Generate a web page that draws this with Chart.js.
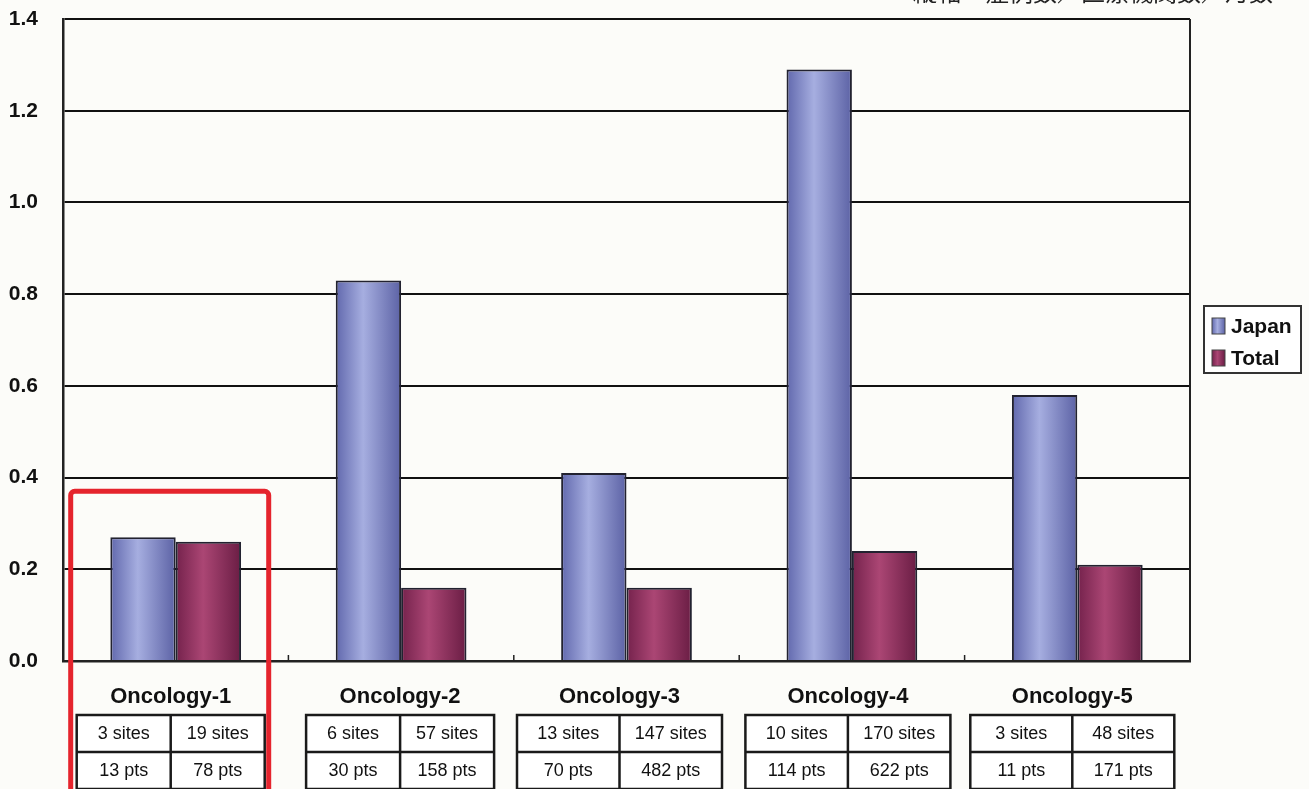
<!DOCTYPE html>
<html>
<head>
<meta charset="utf-8">
<script src="https://cdn.jsdelivr.net/npm/chart.js@4"></script>
<style>
  html, body { margin: 0; padding: 0; background: #fcfcf9; }
  #wrap { width: 1309px; height: 789px; position: relative; }
</style>
</head>
<body>
<div id="wrap"><canvas id="chart"></canvas></div>
<script>
var categories = ['Oncology-1', 'Oncology-2', 'Oncology-3', 'Oncology-4', 'Oncology-5'];
var japan = [0.27, 0.83, 0.41, 1.29, 0.58];
var total = [0.26, 0.16, 0.16, 0.24, 0.21];
var japanSites = [3, 6, 13, 10, 3];
var totalSites = [19, 57, 147, 170, 48];
var japanPts = [13, 30, 70, 114, 11];
var totalPts = [78, 158, 482, 622, 171];
var yTicks = [0, 0.2, 0.4, 0.6, 0.8, 1.0, 1.2, 1.4];
var axisNote = '縦軸：症例数／医療機関数／月数';

// table layout under each category (px)
var tableWidths = [188, 188, 205, 205, 204];
var tableShift = [-5, -1, -7, -4, -5];
var highlightIndex = 0;
var highlightTop = 0.37;

var catPct = 0.58;

function barGradient(ctx, x0, x1, dark, light, dark2) {
  var g = ctx.createLinearGradient(x0, 0, x1, 0);
  g.addColorStop(0, dark);
  g.addColorStop(0.42, light);
  g.addColorStop(1, dark2);
  return g;
}

var colors = [
  ['#6168ad', '#a6aee0', '#5c62a5'],
  ['#74224c', '#ab4674', '#6a1d44']
];

function fillFor(c) {
  var chart = c.chart;
  var xs = chart.scales.x;
  if (!xs || xs.right == null) return colors[c.datasetIndex][1];
  var catW = (xs.right - xs.left) / categories.length;
  var barW = catW * catPct / 2;
  var center = xs.getPixelForValue(c.dataIndex);
  var x0 = c.datasetIndex === 0 ? center - barW : center;
  var col = colors[c.datasetIndex];
  return barGradient(chart.ctx, x0, x0 + barW, col[0], col[1], col[2]);
}

var extras = {
  id: 'extras',
  afterDraw: function(chart) {
    var ctx = chart.ctx;
    var a = chart.chartArea;
    var xs = chart.scales.x;
    var ys = chart.scales.y;
    var n = categories.length;
    var catW = (a.right - a.left) / n;
    ctx.save();

    // right border of plot
    ctx.strokeStyle = '#222';
    ctx.lineWidth = 2;
    ctx.beginPath();
    ctx.moveTo(a.right, a.top);
    ctx.lineTo(a.right, a.bottom);
    ctx.stroke();

    // small inner ticks between categories
    ctx.lineWidth = 1.5;
    ctx.strokeStyle = '#222';
    for (var i = 1; i < n; i++) {
      var tx = a.left + catW * i;
      ctx.beginPath();
      ctx.moveTo(tx, a.bottom - 6);
      ctx.lineTo(tx, a.bottom);
      ctx.stroke();
    }

    // category labels and tables
    for (var k = 0; k < n; k++) {
      var cx = xs.getPixelForValue(k) + tableShift[k];
      ctx.fillStyle = '#111';
      ctx.font = 'bold 22px "Liberation Sans", Arial, sans-serif';
      ctx.textAlign = 'center';
      ctx.textBaseline = 'middle';
      ctx.fillText(categories[k], cx, a.bottom + 36);

      var w = tableWidths[k];
      var left = cx - w / 2, top = a.bottom + 54, rh = 37;
      ctx.strokeStyle = '#1a1a1a';
      ctx.lineWidth = 2.5;
      ctx.fillStyle = '#ffffff';
      ctx.fillRect(left, top, w, rh * 3);
      ctx.strokeRect(left, top, w, rh * 3);
      ctx.beginPath();
      ctx.moveTo(left, top + rh); ctx.lineTo(left + w, top + rh);
      ctx.moveTo(left, top + rh * 2); ctx.lineTo(left + w, top + rh * 2);
      ctx.moveTo(cx, top); ctx.lineTo(cx, top + rh * 3);
      ctx.stroke();

      ctx.fillStyle = '#111';
      ctx.font = '18px "Liberation Sans", Arial, sans-serif';
      ctx.fillText(japanSites[k] + ' sites', left + w / 4, top + rh / 2 + 1);
      ctx.fillText(totalSites[k] + ' sites', left + w * 3 / 4, top + rh / 2 + 1);
      ctx.fillText(japanPts[k] + ' pts', left + w / 4, top + rh * 1.5 + 1);
      ctx.fillText(totalPts[k] + ' pts', left + w * 3 / 4, top + rh * 1.5 + 1);
    }

    // red highlight box
    var hx = xs.getPixelForValue(highlightIndex) + tableShift[highlightIndex];
    var hTop = ys.getPixelForValue(highlightTop);
    ctx.strokeStyle = '#e5242d';
    ctx.lineWidth = 5;
    ctx.beginPath();
    ctx.roundRect(hx - 100, hTop, 198, chart.height - hTop + 20, 4);
    ctx.stroke();

    // legend
    var lx = 1204, ly = 306;
    ctx.fillStyle = '#ffffff';
    ctx.fillRect(lx, ly, 97, 67);
    ctx.strokeStyle = '#333';
    ctx.lineWidth = 2;
    ctx.strokeRect(lx, ly, 97, 67);
    chart.data.datasets.forEach(function(ds, d) {
      var sy = ly + 12 + d * 32;
      ctx.fillStyle = barGradient(ctx, lx + 8, lx + 21, colors[d][0], colors[d][1], colors[d][2]);
      ctx.fillRect(lx + 8, sy, 13, 16);
      ctx.strokeStyle = '#444';
      ctx.lineWidth = 1;
      ctx.strokeRect(lx + 8, sy, 13, 16);
      ctx.fillStyle = '#111';
      ctx.font = 'bold 21px "Liberation Sans", Arial, sans-serif';
      ctx.textAlign = 'left';
      ctx.textBaseline = 'middle';
      ctx.fillText(ds.label, lx + 27, sy + 9);
    });

    // axis note, clipped at top edge
    ctx.fillStyle = '#222';
    ctx.font = '24px "Noto Sans CJK JP", sans-serif';
    ctx.textAlign = 'right';
    ctx.textBaseline = 'alphabetic';
    ctx.fillText(axisNote, 1273, 1);

    ctx.restore();
  }
};

new Chart('chart', {
  type: 'bar',
  data: {
    labels: categories,
    datasets: [
      { label: 'Japan', data: japan, backgroundColor: fillFor, borderColor: '#222230', borderWidth: 2 },
      { label: 'Total', data: total, backgroundColor: fillFor, borderColor: '#222230', borderWidth: 2 }
    ]
  },
  options: {
    responsive: true,
    maintainAspectRatio: false,
    animation: false,
    layout: { padding: { top: 19, right: 119, left: 0, bottom: 0 } },
    datasets: { bar: { categoryPercentage: catPct, barPercentage: 1 } },
    plugins: { legend: { display: false }, tooltip: { enabled: false } },
    scales: {
      x: {
        grid: { display: false },
        border: { color: '#222', width: 2.5 },
        ticks: { display: false },
        afterFit: function(s) { s.height = 128; }
      },
      y: {
        min: 0,
        max: 1.4,
        afterBuildTicks: function(s) { s.ticks = yTicks.map(function(v) { return { value: v }; }); },
        ticks: {
          padding: 25,
          color: '#111',
          font: { family: '"Liberation Sans", Arial, sans-serif', size: 21, weight: 'bold' },
          callback: function(v) { return v.toFixed(1); }
        },
        grid: { color: '#111', lineWidth: 2, drawTicks: false },
        border: { color: '#222', width: 2.5 },
        afterFit: function(s) { s.width = 63; s.paddingTop = 0; s.paddingBottom = 0; }
      }
    }
  },
  plugins: [extras]
});
</script>
</body>
</html>
